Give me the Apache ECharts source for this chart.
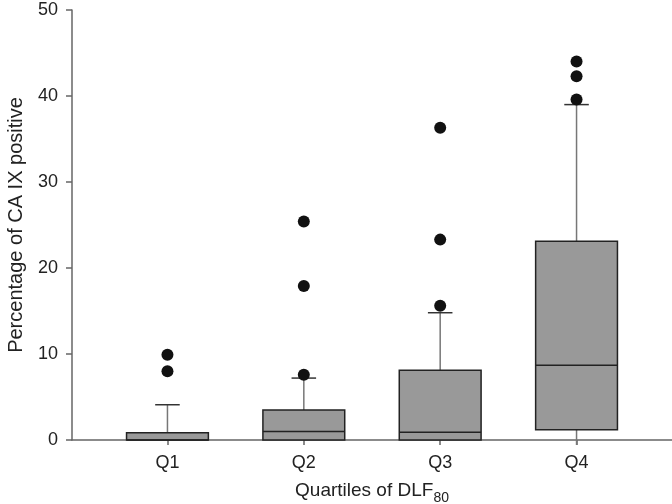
<!DOCTYPE html>
<html>
<head>
<meta charset="utf-8">
<script src="https://cdn.jsdelivr.net/npm/echarts@6/dist/echarts.min.js"></script>
<style>
  html, body { margin: 0; padding: 0; background: #fff; }
  #chart { width: 672px; height: 504px; }
</style>
</head>
<body>
<div id="chart"></div>
<script>
// box plot values
var categories = ['Q1', 'Q2', 'Q3', 'Q4'];
var whiskerLow = [0, 0, 0, 0];
var boxLow = [0, 0, 0, 1.2];
var medians = [0, 1.0, 0.9, 8.7];
var boxHigh = [0.85, 3.5, 8.1, 23.1];
var whiskerHigh = [4.1, 7.2, 14.8, 39.0];
var outliers = [
    [8.0, 9.9],
    [7.6, 17.9, 25.4],
    [15.6, 23.3, 36.3],
    [39.6, 42.3, 44.0]
];
var yTicks = [0, 10, 20, 30, 40, 50];

var boxData = categories.map(function (c, i) {
    return [i + 1, whiskerLow[i], boxLow[i], medians[i], boxHigh[i], whiskerHigh[i]];
});
var outlierData = [];
outliers.forEach(function (list, i) {
    list.forEach(function (v) { outlierData.push([i + 1, v]); });
});

var boxWidth = 0.6;
var capWidth = 0.18;

function renderBox(params, api) {
    var x = api.value(0);
    var lo = api.coord([x, api.value(1)]);
    var b1 = api.coord([x - boxWidth / 2, api.value(2)]);
    var b2 = api.coord([x + boxWidth / 2, api.value(4)]);
    var med = api.value(3);
    var m1 = api.coord([x - boxWidth / 2, med]);
    var m2 = api.coord([x + boxWidth / 2, med]);
    var hi = api.coord([x, api.value(5)]);
    var c1 = api.coord([x - capWidth / 2, api.value(5)]);
    var c2 = api.coord([x + capWidth / 2, api.value(5)]);
    var children = [];
    // upper whisker
    children.push({
        type: 'line',
        shape: { x1: hi[0], y1: b2[1], x2: hi[0], y2: hi[1] },
        style: { stroke: '#777', lineWidth: 1.5 }
    });
    children.push({
        type: 'line',
        shape: { x1: c1[0], y1: c1[1], x2: c2[0], y2: c2[1] },
        style: { stroke: '#333', lineWidth: 1.5 }
    });
    // lower whisker
    if (api.value(2) > api.value(1)) {
        children.push({
            type: 'line',
            shape: { x1: lo[0], y1: lo[1] + 5, x2: lo[0], y2: b1[1] },
            style: { stroke: '#777', lineWidth: 1.5 }
        });
    }
    children.push({
        type: 'rect',
        shape: { x: b1[0], y: b2[1], width: b2[0] - b1[0], height: b1[1] - b2[1] },
        style: { fill: '#999', stroke: '#222', lineWidth: 1.5 }
    });
    children.push({
        type: 'line',
        shape: { x1: m1[0], y1: m1[1], x2: m2[0], y2: m2[1] },
        style: { stroke: '#222', lineWidth: 1.5 }
    });
    return { type: 'group', children: children };
}

var chart = echarts.init(document.getElementById('chart'));
chart.setOption({
    animation: false,
    grid: { left: 72, right: 0, top: 10, bottom: 64, outerBoundsMode: 'none', containLabel: false },
    xAxis: {
        type: 'value',
        min: 0.3,
        max: 4.7,
        splitLine: { show: false },
        axisLine: { show: true, lineStyle: { color: '#666', width: 1.5 } },
        axisTick: { show: true, customValues: [1, 2, 3, 4], length: 5, lineStyle: { color: '#666', width: 1.5 } },
        axisLabel: {
            customValues: [1, 2, 3, 4],
            formatter: function (v) { return categories[Math.round(v) - 1]; },
            color: '#222', fontSize: 18, fontFamily: 'Liberation Sans', margin: 14
        },
        name: '{a|Quartiles of DLF}{b|80}',
        nameLocation: 'middle',
        nameGap: 37,
        nameTextStyle: {
            rich: {
                a: { fontSize: 19, color: '#222', fontFamily: 'Liberation Sans' },
                b: { fontSize: 14, color: '#222', fontFamily: 'Liberation Sans', padding: [14, 0, 0, 0] }
            }
        }
    },
    yAxis: {
        type: 'value',
        min: yTicks[0],
        max: yTicks[yTicks.length - 1],
        interval: 10,
        splitLine: { show: false },
        axisLine: { show: true, lineStyle: { color: '#666', width: 1.5 } },
        axisTick: { show: true, length: 6, lineStyle: { color: '#666', width: 1.5 } },
        axisLabel: { color: '#222', fontSize: 18, fontFamily: 'Liberation Sans', margin: 14 },
        name: 'Percentage of CA IX positive',
        nameLocation: 'middle',
        nameGap: 46,
        nameTextStyle: { fontSize: 20, color: '#222', fontFamily: 'Liberation Sans' }
    },
    series: [
        {
            type: 'custom',
            renderItem: renderBox,
            data: boxData,
            encode: { x: 0, y: [1, 2, 3, 4, 5] },
            clip: false
        },
        {
            type: 'scatter',
            data: outlierData,
            symbol: 'circle',
            symbolSize: 12,
            itemStyle: { color: '#111', opacity: 1 }
        }
    ]
});
</script>
</body>
</html>
